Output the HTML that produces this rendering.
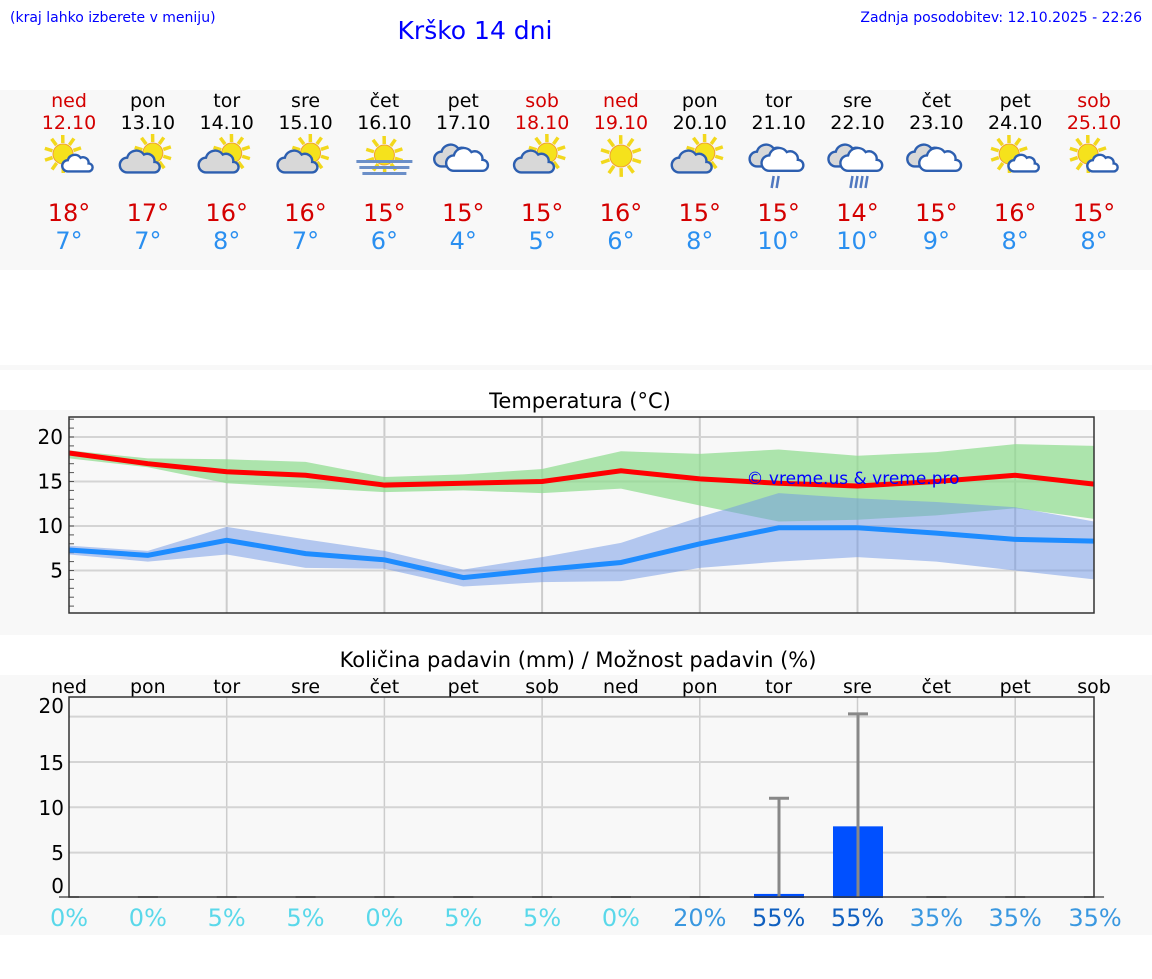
<!DOCTYPE html>
<html><head><meta charset="utf-8"><style>
body{margin:0;background:#fff;width:1152px;height:975px;overflow:hidden;font-family:"DejaVu Sans","Liberation Sans",sans-serif}
svg text{font-family:"DejaVu Sans","Liberation Sans",sans-serif}
</style></head><body>
<svg id="s" width="1152" height="975" xmlns="http://www.w3.org/2000/svg">
<rect x="0" y="90" width="1152" height="180" fill="#f8f8f8"/>
<rect x="0" y="365" width="1152" height="5" fill="#f8f8f8"/>
<rect x="0" y="410" width="1152" height="225" fill="#f8f8f8"/>
<rect x="0" y="675" width="1152" height="260" fill="#f8f8f8"/>
<text x="10" y="22" font-size="14" fill="#0000ff" font-family="Liberation Sans">(kraj lahko izberete v meniju)</text>
<text x="475" y="39" font-size="25" fill="#0000ff" text-anchor="middle" font-family="Liberation Sans">Krško 14 dni</text>
<text x="1142" y="22" font-size="14" fill="#0000ff" text-anchor="end" font-family="Liberation Sans">Zadnja posodobitev: 12.10.2025 - 22:26</text>
<text x="580" y="408" font-size="21" text-anchor="middle">Temperatura (°C)</text>
<text x="578" y="667" font-size="21" text-anchor="middle">Količina padavin (mm) / Možnost padavin (%)</text>
<g id="g"></g>
</svg>
<script>
const g=document.getElementById('g');
let h='';
const X=i=>69+i*78.85;
const days=['ned','pon','tor','sre','čet','pet','sob','ned','pon','tor','sre','čet','pet','sob'];
const dates=['12.10','13.10','14.10','15.10','16.10','17.10','18.10','19.10','20.10','21.10','22.10','23.10','24.10','25.10'];
const red=[0,6,7,13];
const hi=[18,17,16,16,15,15,15,16,15,15,14,15,16,15],lo=[7,7,8,7,6,4,5,6,8,10,10,9,8,8];
const icons=['sc','spc','spc','spc','fog','cl','spc','s','spc','r2','r4','cl','sc','sc'];
function sun(cx,cy,r){let s='';for(let k=0;k<10;k++){let a=k*Math.PI/5+0.3;s+=`<line x1="${cx+Math.cos(a)*r*1.1}" y1="${cy+Math.sin(a)*r*1.1}" x2="${cx+Math.cos(a)*r*1.9}" y2="${cy+Math.sin(a)*r*1.9}" stroke="#f2d81c" stroke-width="3.5"/>`;}return s+`<circle cx="${cx}" cy="${cy}" r="${r}" fill="#f5e21c" stroke="#f0a030" stroke-width="1"/>`;}
function cloud(cx,cy,sc,fill){return `<path transform="translate(${cx},${cy}) scale(${sc})" d="M-14,8 a7,7 0 0 1 0,-14 a9,9 0 0 1 16,-3 a7,7 0 0 1 10,7 a5,5 0 0 1 0,10 z" fill="${fill}" stroke="#2d5fb0" stroke-width="${2.4/sc}"/>`;}
function icon(t,x,y){
 if(t=='sc')return sun(x-6,y-4,10)+cloud(x+10,y+7,0.8,'#fff');
 if(t=='spc')return sun(x+5,y-5,10)+cloud(x-6,y+6,1.05,'#d8d8d8');
 if(t=='s')return sun(x,y-2,11);
 if(t=='fog')return sun(x,y-3,10)+`<rect x="${x-28}" y="${y+2}" width="56" height="3" fill="#6b8fc8"/><rect x="${x-25}" y="${y+8}" width="50" height="3" fill="#6b8fc8"/><rect x="${x-22}" y="${y+14}" width="44" height="3" fill="#6b8fc8"/>`;
 let s=cloud(x-7,y,1.05,'#d8d8d8')+cloud(x+6,y+4,1.1,'#fff');
 if(t=='cl')return s;
 let n=t=='r2'?2:4;for(let k=0;k<n;k++){let xx=x-6+k*5;s+=`<line x1="${xx+1}" y1="${y+18}" x2="${xx-1}" y2="${y+30}" stroke="#5078c0" stroke-width="2.5"/>`;}return s;}
for(let i=0;i<14;i++){const x=X(i),c=red.includes(i)?'#d40000':'#000';
 h+=`<text x="${x}" y="107" font-size="19" fill="${c}" text-anchor="middle">${days[i]}</text><text x="${x}" y="129" font-size="19" fill="${c}" text-anchor="middle">${dates[i]}</text>`;
 h+=icon(icons[i],x,158);
 h+=`<text x="${x}" y="221" font-size="24" fill="#d40000" text-anchor="middle">${hi[i]}°</text><text x="${x}" y="249" font-size="24" fill="#2a8ff0" text-anchor="middle">${lo[i]}°</text>`;}
const ty=T=>437+(20-T)*8.9;
for(let i=2;i<14;i+=2){h+=`<line x1="${X(i)}" y1="417" x2="${X(i)}" y2="613" stroke="#ccc" stroke-width="2"/>`;}
for(const v of [20,15,10,5]){h+=`<line x1="69" y1="${ty(v)}" x2="1094" y2="${ty(v)}" stroke="#d4d4d4" stroke-width="2"/><text x="63" y="${ty(v)+7}" font-size="20" text-anchor="end">${v}</text>`;}
for(let v=1;v<=22;v++){h+=`<line x1="69" y1="${ty(v)}" x2="74" y2="${ty(v)}" stroke="#555" stroke-width="1"/>`;}
const band=(u,l,c)=>{let p=u.map((v,i)=>X(i)+','+ty(v)).join(' ')+' '+l.map((v,i)=>X(i)+','+ty(v)).reverse().join(' ');return `<polygon points="${p}" fill="${c}"/>`;};
const line=(a,c)=>`<polyline points="${a.map((v,i)=>X(i)+','+ty(v)).join(' ')}" fill="none" stroke="${c}" stroke-width="5"/>`;
h+=band([18.5,17.6,17.5,17.2,15.5,15.8,16.4,18.4,18.1,18.6,17.9,18.3,19.2,19],[17.6,16.6,14.8,14.3,13.8,14.0,13.7,14.2,12.3,10.5,10.7,11.2,12,10.8],'rgba(140,220,140,0.7)');
h+=band([7.8,7.2,9.9,8.5,7.2,5.1,6.5,8.1,11,13.7,13.1,12.7,12.1,10.5],[6.8,6.0,6.8,5.3,5.2,3.2,3.7,3.8,5.3,6,6.5,6,5,4],'rgba(110,150,230,0.5)');
h+=line([18.2,17,16.1,15.7,14.6,14.8,15,16.2,15.3,14.8,14.5,15,15.7,14.7],'#ff0000');
h+=line([7.3,6.7,8.4,6.9,6.2,4.2,5.1,5.9,8,9.8,9.8,9.2,8.5,8.3],'#1e8cff');
h+=`<rect x="69" y="417" width="1025" height="196" fill="none" stroke="#333" stroke-width="1.5"/>`;
h+=`<text x="853" y="484" font-size="17" fill="#0000ff" text-anchor="middle" font-family="Liberation Sans">© vreme.us &amp; vreme.pro</text>`;
const py=v=>898-v*9.07;
for(let i=2;i<14;i+=2){h+=`<line x1="${X(i)}" y1="697" x2="${X(i)}" y2="897" stroke="#ccc" stroke-width="1.5"/>`;}
for(const v of [20,15,10,5]){h+=`<line x1="69" y1="${py(v)}" x2="1094" y2="${py(v)}" stroke="#d4d4d4" stroke-width="2"/>`;}
[[20,713],[15,770],[10,815],[5,860],[0,893]].forEach(([v,y])=>h+=`<text x="64" y="${y}" font-size="20" text-anchor="end">${v}</text>`);
for(let i=0;i<14;i++){h+=`<text x="${X(i)}" y="693" font-size="19" text-anchor="middle">${days[i]}</text><line x1="${X(i)-10}" y1="897" x2="${X(i)+10}" y2="897" stroke="#555" stroke-width="1.5"/>`;}
h+=`<rect x="754" y="${py(0.45)}" width="50" height="${0.45*9.07}" fill="#0050ff"/><rect x="833" y="${py(7.9)}" width="50" height="${7.9*9.07}" fill="#0050ff"/>`;
h+=`<line x1="779" y1="${py(11)}" x2="779" y2="897" stroke="#888" stroke-width="3"/><line x1="769" y1="${py(11)}" x2="789" y2="${py(11)}" stroke="#888" stroke-width="3"/>`;
h+=`<line x1="858" y1="${py(20.3)}" x2="858" y2="897" stroke="#888" stroke-width="3"/><line x1="848" y1="${py(20.3)}" x2="868" y2="${py(20.3)}" stroke="#888" stroke-width="3"/>`;
h+=`<rect x="69" y="697" width="1025" height="200" fill="none" stroke="#333" stroke-width="1.5"/>`;
const pct=[0,0,5,5,0,5,5,0,20,55,55,35,35,35],pc=p=>p>=55?'#1060c0':p>=20?'#3a98e0':'#5ad8ea';
pct.forEach((p,i)=>h+=`<text x="${X(i)+(i==13?1:0)}" y="926" font-size="24" fill="${pc(p)}" text-anchor="middle">${p}%</text>`);
g.innerHTML=h;
</script>
</body></html>
